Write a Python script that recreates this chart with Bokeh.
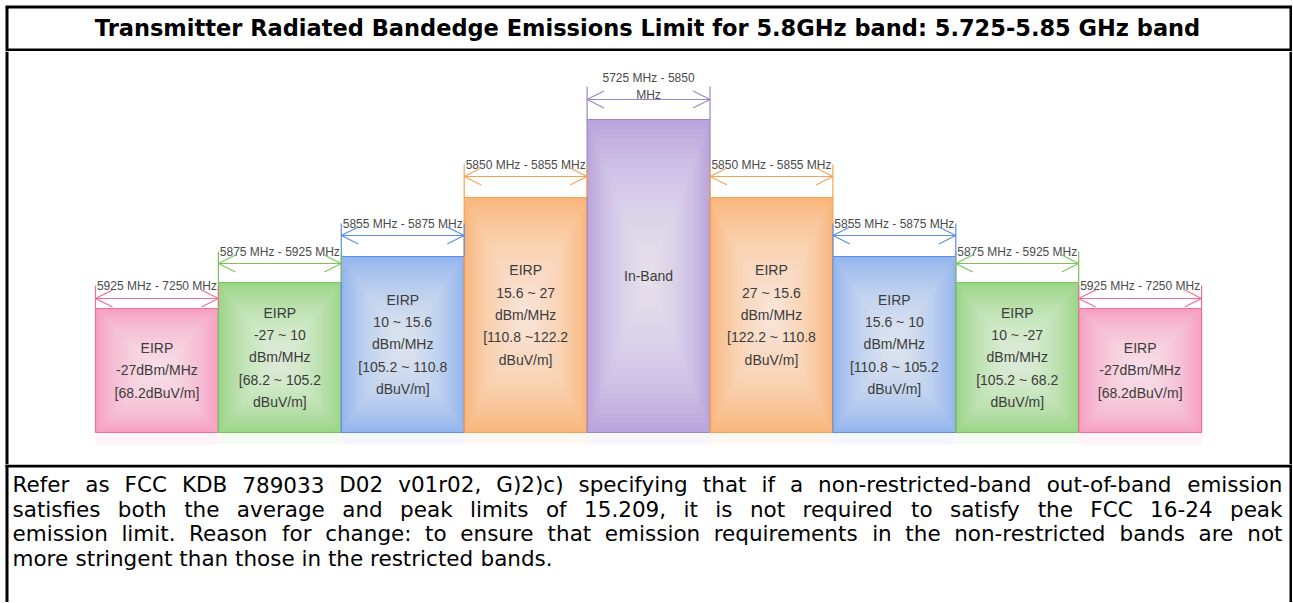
from bokeh.plotting import figure
from bokeh.models import Range1d, ColumnDataSource, Arrow, OpenHead, Span
from bokeh.layouts import column
from bokeh.embed import file_html
from bokeh.resources import INLINE
from bokeh.core.properties import value

# ---------------- data ----------------
TITLE = "Transmitter Radiated Bandedge Emissions Limit for 5.8GHz band: 5.725-5.85 GHz band"

band_labels = ["5925 MHz - 7250 MHz", "5875 MHz - 5925 MHz", "5855 MHz - 5875 MHz",
               "5850 MHz - 5855 MHz", "5725 MHz - 5850\nMHz", "5850 MHz - 5855 MHz",
               "5855 MHz - 5875 MHz", "5875 MHz - 5925 MHz", "5925 MHz - 7250 MHz"]
bar_levels = [124, 150, 176, 235, 313, 235, 176, 150, 124]
bar_texts = ["EIRP\n-27dBm/MHz\n[68.2dBuV/m]",
             "EIRP\n-27 ~ 10\ndBm/MHz\n[68.2 ~ 105.2\ndBuV/m]",
             "EIRP\n10 ~ 15.6\ndBm/MHz\n[105.2 ~ 110.8\ndBuV/m]",
             "EIRP\n15.6 ~ 27\ndBm/MHz\n[110.8 ~122.2\ndBuV/m]",
             "In-Band",
             "EIRP\n27 ~ 15.6\ndBm/MHz\n[122.2 ~ 110.8\ndBuV/m]",
             "EIRP\n15.6 ~ 10\ndBm/MHz\n[110.8 ~ 105.2\ndBuV/m]",
             "EIRP\n10 ~ -27\ndBm/MHz\n[105.2 ~ 68.2\ndBuV/m]",
             "EIRP\n-27dBm/MHz\n[68.2dBuV/m]"]

paragraph_lines = [
    "Refer as FCC KDB 789033 D02 v01r02, G)2)c) specifying that if a non-restricted-band out-of-band emission",
    "satisfies both the average and peak limits of 15.209, it is not required to satisfy the FCC 16-24 peak",
    "emission limit. Reason for change: to ensure that emission requirements in the non-restricted bands are not",
    "more stringent than those in the restricted bands.",
]

# ---------------- styles / layout ----------------
fill_cols = ["#f6a0c2", "#9bd687", "#94b5ee", "#f9b67b", "#bba5dc",
             "#f9b67b", "#94b5ee", "#9bd687", "#f6a0c2"]
edge_cols = ["#ef6f9a", "#7cc35e", "#5d8fe6", "#f6a356", "#9a86c8",
             "#f6a356", "#5d8fe6", "#7cc35e", "#ef6f9a"]
arrow_gap = [10, 19, 21, 21, 20, 21, 21, 19, 10]
label_off = [13, 12, 12, 12, 13, 12, 12, 12, 13]

W = 1292
H_TITLE, H_CHART, H_TEXT = 51, 413, 138
BAR_PX = 122.9
LEFT_PX = 95
BOTTOM_PX = 32
BL, BR, BT = 6.5, 1290.5, 6.5          # border line centres (px)
FONT = value("Liberation Sans")
PFONT = value("DejaVu Sans")


def blank(h, xr, yr):
    p = figure(width=W, height=h, x_range=xr, y_range=yr, output_backend="svg",
               toolbar_location=None, min_border=0,
               x_axis_location=None, y_axis_location=None)
    p.grid.visible = False
    p.outline_line_color = None
    p.background_fill_color = "white"
    p.border_fill_color = "white"
    return p


# ---------------- title ----------------
pt = blank(H_TITLE, Range1d(0, W), Range1d(H_TITLE, 0))
pt.segment(x0=[BL - 1.5, BL, BR], y0=[BT, BT, BT], x1=[BR + 1.5, BL, BR],
           y1=[BT, H_TITLE, H_TITLE], line_color="black", line_width=3)
pt.segment(x0=[BL], y0=[H_TITLE - 1.5], x1=[BR], y1=[H_TITLE - 1.5],
           line_color="black", line_width=3)
pt.text(x=[647], y=[27], text=[TITLE], text_align="center", text_baseline="middle",
        text_font=PFONT, text_font_size="22.5px", text_font_style="bold", text_color="black")

# ---------------- chart ----------------
xr = Range1d(-LEFT_PX / BAR_PX, (W - LEFT_PX) / BAR_PX)
pc = blank(H_CHART, xr, Range1d(-BOTTOM_PX, H_CHART - BOTTOM_PX))
pc.add_layout(Span(location=xr.start + BL / BAR_PX, dimension="height",
                   line_width=3, line_color="black"))
pc.add_layout(Span(location=xr.start + BR / BAR_PX, dimension="height",
                   line_width=3, line_color="black"))

n = len(bar_levels)
lefts = [float(i) for i in range(n)]
rights = [i + 1.0 for i in range(n)]
tops = [float(v) for v in bar_levels]
bottoms = [0.0] * n

# faint reflection
pc.quad(left=lefts, right=rights, bottom=[-12.0] * n, top=bottoms,
        fill_color=fill_cols, fill_alpha=0.10, line_color=None)

# base bars
pc.quad(left=lefts, right=rights, bottom=bottoms, top=tops,
        fill_color=fill_cols, line_color=None)
# glow layers (lighter toward the centre)
NL = 32
for k in range(1, NL + 1):
    t = k / NL * 0.97
    ins_x = [0.5 * t] * n
    pc.quad(left=[l + d for l, d in zip(lefts, ins_x)],
            right=[r - d for r, d in zip(rights, ins_x)],
            bottom=[0.5 * t * h for h in tops],
            top=[h - 0.5 * t * h for h in tops],
            fill_color="white", fill_alpha=0.042, line_color=None)
# outline
pc.quad(left=lefts, right=rights, bottom=bottoms, top=tops,
        fill_color=None, line_color=edge_cols, line_width=1.2)

# bar texts
pc.text(x=[i + 0.5 for i in range(n)], y=[h / 2 for h in tops], text=bar_texts,
        text_align="center", text_baseline="middle", text_font=FONT,
        text_font_size="14px", text_color="#3c3c3c", text_line_height=1.4)

# brackets
arrow_y = [h + g for h, g in zip(tops, arrow_gap)]
lab_y = [a + o for a, o in zip(arrow_y, label_off)]
pc.segment(x0=lefts, y0=tops, x1=lefts, y1=lab_y, line_color=edge_cols, line_width=1.2)
pc.segment(x0=rights, y0=tops, x1=rights, y1=lab_y, line_color=edge_cols, line_width=1.2)
for i in range(n):
    src = ColumnDataSource(dict(x0=[lefts[i]], x1=[rights[i]], y=[arrow_y[i]]))
    pc.add_layout(Arrow(start=OpenHead(size=17, line_color=edge_cols[i], line_width=1.2),
                        end=OpenHead(size=17, line_color=edge_cols[i], line_width=1.2),
                        x_start="x0", y_start="y", x_end="x1", y_end="y", source=src,
                        line_color=edge_cols[i], line_width=1.2))
pc.text(x=[i + 0.5 for i in range(n)], y=lab_y, text=band_labels,
        text_align="center", text_baseline="middle", text_font=FONT,
        text_font_size="12px", text_color="#4a4a4a", text_line_height=1.25)

# ---------------- paragraph ----------------
ptx = blank(H_TEXT, Range1d(0, W), Range1d(H_TEXT, 0))
ptx.segment(x0=[BL - 1.5, BL, BR], y0=[1.5, 0, 0], x1=[BR + 1.5, BL, BR],
            y1=[1.5, H_TEXT, H_TEXT], line_color="black", line_width=3)

# DejaVu Sans advance widths (units per 2048)
AW = {' ': 651, ',': 651, '.': 651, '-': 739, '(': 799, ')': 799, ':': 690, '/': 690}
for c in "0123456789":
    AW[c] = 1303
for c, w in zip("abcdefghijklmnopqrstuvwxyz",
                [1255, 1300, 1126, 1300, 1260, 721, 1300, 1298, 569, 569, 1186, 569, 1995,
                 1298, 1253, 1300, 1300, 842, 1067, 803, 1298, 1212, 1675, 1212, 1212, 1075]):
    AW[c] = w
for c, w in zip("ABCDEFGHIJKLMNOPQRSTUVWXYZ",
                [1401, 1405, 1430, 1577, 1294, 1178, 1587, 1540, 604, 604, 1343, 1141, 1767,
                 1532, 1612, 1235, 1612, 1423, 1300, 1251, 1499, 1401, 2025, 1403, 1251, 1403]):
    AW[c] = w

FS = 21.5
TXT_L, TXT_R = 12, 1282
BASE0, LSTEP = 20, 24.5


def tw(s):
    return sum(AW.get(c, 1300) for c in s) / 2048.0 * FS


wx, wy, wt = [], [], []
for li, line in enumerate(paragraph_lines):
    words = line.split(" ")
    total = sum(tw(w) for w in words)
    if li < len(paragraph_lines) - 1 and len(words) > 1:
        gap = (TXT_R - TXT_L - total) / (len(words) - 1)
    else:
        gap = tw(" ")
    x = TXT_L
    for w in words:
        wx.append(x)
        wy.append(BASE0 + li * LSTEP)
        wt.append(w)
        x += tw(w) + gap
ptx.text(x=wx, y=wy, text=wt, text_align="left", text_baseline="alphabetic",
         text_font=PFONT, text_font_size=f"{FS}px", text_color="black")

layout = column(pt, pc, ptx, spacing=0)
open("out.html", "w").write(file_html(layout, INLINE))
